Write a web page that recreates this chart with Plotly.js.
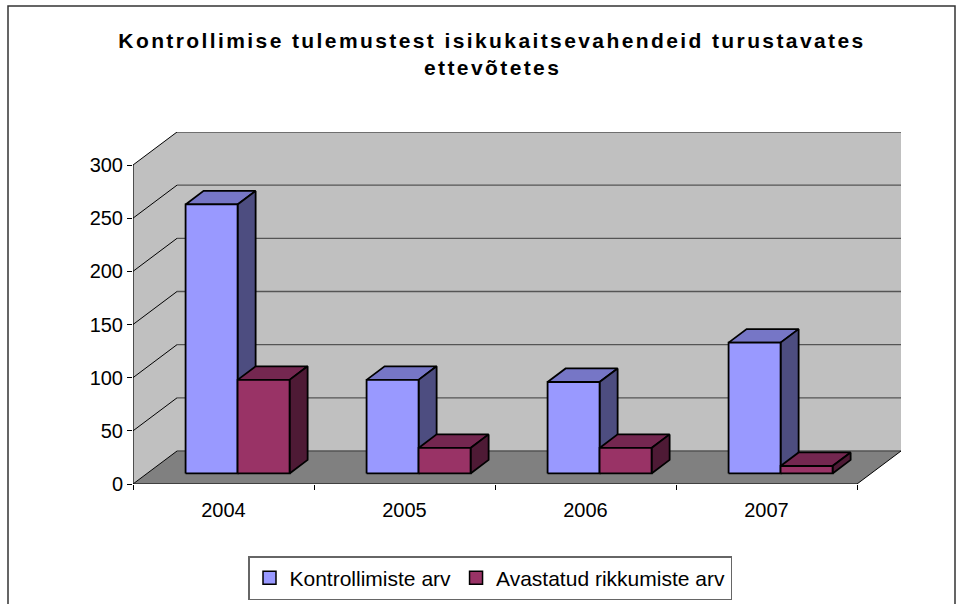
<!DOCTYPE html>
<html><head><meta charset="utf-8">
<script src="https://cdn.plot.ly/plotly-3.0.1.min.js"></script>
<style>
html,body{margin:0;padding:0;background:#fff;overflow:hidden}
.gtitle, .annotation-text{letter-spacing:2.4px}
</style>
</head><body><div id="chart" style="width:963px;height:604px"></div>
<script>
// ---- data ----
const years = ['2004', '2005', '2006', '2007'];
const kontrollimiste = [253, 88, 86, 123];
const rikkumiste = [88, 24, 24, 7];
const seriesNames = ['Kontrollimiste arv', 'Avastatud rikkumiste arv'];
const yTicks = [0, 50, 100, 150, 200, 250, 300];
const titleLine1 = 'Kontrollimise tulemustest isikukaitsevahendeid turustavates';
const titleLine2 = 'ettevõtetes';

// ---- geometry / style ----
const W = 963, H = 604, L = 133, R = 62, T = 132, B = 120;
const pw = W - L - R, ph = H - T - B;
const nCat = years.length;
const yMax = yTicks[yTicks.length - 1];
const depthPxX = 44, depthPxY = 33;
const pxPerCat = (pw - depthPxX) / nCat;
const pxPerUnit = (ph - depthPxY) / yMax;
const dxF = depthPxX / pxPerCat;      // full depth in x units
const dyF = depthPxY / pxPerUnit;     // full depth in y units
const f0 = 0.32, f1 = 0.73;           // bar front / back depth fractions
const barW = 52 / pxPerCat;
const FONT = 'Liberation Sans, Arial, sans-serif';

const seriesColors = [
  {front: '#9999FF', top: '#7676C6', side: '#4D4D80'},
  {front: '#993366', top: '#742750', side: '#4E1A35'}
];

const traces = [];
function poly(xs, ys, fill, lineColor, lineW) {
  traces.push({type: 'scatter', mode: 'lines', x: xs, y: ys, fill: 'toself',
    fillcolor: fill, line: {color: lineColor, width: lineW}, hoverinfo: 'skip', showlegend: false});
}
function lines(xs, ys, color, w) {
  traces.push({type: 'scatter', mode: 'lines', x: xs, y: ys, line: {color: color, width: w},
    hoverinfo: 'skip', showlegend: false, connectgaps: false});
}

// walls and floor
poly([dxF, nCat + dxF, nCat + dxF, dxF, dxF], [dyF, dyF, yMax + dyF, yMax + dyF, dyF], '#C0C0C0', 'rgba(0,0,0,0)', 0);
poly([0, dxF, dxF, 0, 0], [0, dyF, yMax + dyF, yMax, 0], '#C0C0C0', 'rgba(0,0,0,0)', 0);
poly([0, nCat, nCat + dxF, dxF, 0], [0, 0, dyF, dyF, 0], '#808080', 'rgba(0,0,0,0)', 0);

// back wall gridlines
{
  const gx = [], gy = [];
  yTicks.forEach(v => { gx.push(dxF, nCat + dxF, null); gy.push(v + dyF, v + dyF, null); });
  lines(gx, gy, '#555555', 1.3);
}
// side wall diagonals
{
  const gx = [], gy = [];
  yTicks.forEach(v => { gx.push(0, dxF, null); gy.push(v, v + dyF, null); });
  gx.push(nCat, nCat + dxF, null); gy.push(0, dyF, null);
  lines(gx, gy, '#000000', 1);
}
// axis lines
lines([0, 0, null, 0, nCat], [0, yMax, null, 0, 0], '#000000', 1.2);

// bars
[kontrollimiste, rikkumiste].forEach((vals, s) => {
  const top = {x: [], y: []}, side = {x: [], y: []}, front = {x: [], y: []};
  vals.forEach((v, i) => {
    const c = i + 0.5;
    const x0 = c - barW + s * barW, x1 = x0 + barW;
    const ax = f0 * dxF, ay = f0 * dyF, bx = f1 * dxF, by = f1 * dyF;
    front.x.push(x0 + ax, x1 + ax, x1 + ax, x0 + ax, x0 + ax, null);
    front.y.push(ay, ay, v + ay, v + ay, ay, null);
    top.x.push(x0 + ax, x1 + ax, x1 + bx, x0 + bx, x0 + ax, null);
    top.y.push(v + ay, v + ay, v + by, v + by, v + ay, null);
    side.x.push(x1 + ax, x1 + bx, x1 + bx, x1 + ax, x1 + ax, null);
    side.y.push(ay, by, v + by, v + ay, ay, null);
  });
  const col = seriesColors[s];
  poly(top.x, top.y, col.top, '#000000', 1.8);
  poly(side.x, side.y, col.side, '#000000', 1.8);
  poly(front.x, front.y, col.front, '#000000', 1.8);
});

// legend entries
seriesNames.forEach((n, s) => {
  traces.push({type: 'scatter', mode: 'markers', x: [null], y: [null], name: n, showlegend: true,
    marker: {symbol: 'square', size: 13, color: seriesColors[s].front, line: {color: '#000', width: 1.5}}});
});

const centers = years.map((_, i) => i + 0.5);
const bounds = [];
for (let i = 0; i <= nCat; i++) bounds.push(i);

const layout = {
  width: W, height: H,
  margin: {l: L, r: R, t: T, b: B, autoexpand: false},
  paper_bgcolor: '#FFFFFF', plot_bgcolor: 'rgba(0,0,0,0)',
  font: {family: FONT, color: '#000000', size: 20},
  title: {text: '<b>' + titleLine1 + '</b>', xref: 'container', x: 492 / W, xanchor: 'center',
    yref: 'container', y: 1 - 41 / H, yanchor: 'middle', font: {family: FONT, size: 21, color: '#000'}},
  annotations: [{text: '<b>' + titleLine2 + '</b>', xref: 'paper', yref: 'paper',
    x: (492 - L) / pw, y: (H - B - 67) / ph, xanchor: 'center', yanchor: 'middle', showarrow: false,
    font: {family: FONT, size: 21, color: '#000'}}],
  xaxis: {range: [0, nCat + dxF], tickmode: 'array', tickvals: centers, ticktext: years, ticks: '',
    showgrid: false, zeroline: false, showline: false, fixedrange: true,
    tickfont: {family: FONT, size: 20, color: '#000'}, ticklabelstandoff: 12,
    minor: {tickmode: 'array', tickvals: bounds, ticks: 'outside', ticklen: 5, tickwidth: 1, tickcolor: '#000', showgrid: false}},
  yaxis: {range: [0, yMax + dyF], tickmode: 'array', tickvals: yTicks, ticks: 'outside', ticklen: 5,
    tickwidth: 1, tickcolor: '#000', showgrid: false, zeroline: false, showline: false, fixedrange: true,
    tickfont: {family: FONT, size: 20, color: '#000'}},
  showlegend: true,
  legend: {orientation: 'h', xref: 'container', yref: 'container', x: 490 / W, xanchor: 'center',
    y: 1 - 556 / H, yanchor: 'top', bgcolor: '#FFFFFF', bordercolor: '#666666', borderwidth: 1.5,
    font: {family: FONT, size: 21, color: '#000'}, itemwidth: 30},
  shapes: [{type: 'rect', xref: 'paper', yref: 'paper',
    x0: (8 - L) / pw, x1: (955 - L) / pw, y0: (H - B - 625) / ph, y1: (H - B - 6) / ph,
    line: {color: '#333333', width: 1.5}, fillcolor: 'rgba(0,0,0,0)', layer: 'below'}]
};

Plotly.newPlot('chart', traces, layout, {displayModeBar: false, staticPlot: true});
</script></body></html>
